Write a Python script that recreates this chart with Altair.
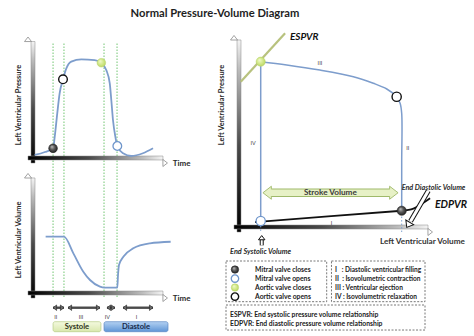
import altair as alt
import pandas as pd

FONT = "Lato"
TXT = "#2a2a2a"
CURVE = "#7d9dcc"

# ---------------- data ----------------
title_text = ["Normal Pressure-Volume Diagram"]

# upper left: LV pressure over one cycle (time s, pressure mmHg)
press_t = [0.048, 0.121, 0.179, 0.191, 0.209, 0.226, 0.250, 0.274, 0.309, 0.381, 0.476,
           0.524, 0.559, 0.584, 0.595, 0.607, 0.624, 0.638, 0.679, 0.738, 0.821, 0.893]
press_p = [8.9, 12.2, 16.3, 29.2, 55.2, 77.4, 93.0, 105.2, 112.6, 115.2, 114.4,
           111.4, 103.3, 88.6, 70.0, 47.8, 29.2, 18.9, 10.8, 7.8, 10.8, 16.3]

# lower left: LV volume over the same cycle (time s, volume mL)
vol_t = [0.126, 0.257, 0.324, 0.395, 0.443, 0.514, 0.545, 0.638, 0.643, 0.650, 0.681, 0.752, 0.871, 1.019]
vol_v = [120.0, 120.0, 97.2, 72.0, 60.6, 51.4, 50.0, 50.0, 67.4, 81.2, 92.5, 104.1, 110.9, 113.1]

# valve events
event_names = ["Mitral valve closes", "Aortic valve opens", "Aortic valve closes", "Mitral valve opens"]
event_t = [0.179, 0.250, 0.524, 0.638]
event_p = [16.3, 93.0, 111.4, 18.9]

# phase boundaries (dotted green lines)
boundary_t = [0.179, 0.257, 0.543, 0.636]

# phase arrows below the volume plot
phase_names = ["II", "III", "IV", "I"]
phase_start = [0.179, 0.286, 0.564, 0.679]
phase_end = [0.257, 0.514, 0.621, 0.893]
phase_label_t = [0.198, 0.379, 0.567, 0.776]

cycle_names = ["Systole", "Diastole"]
cycle_start = [0.179, 0.543]
cycle_end = [0.521, 1.0]

# right: pressure-volume loop (volume mL, pressure mmHg)
loop_v = [120.0, 120.0, 120.0, 119.2, 117.5, 112.6, 105.9, 96.0, 79.4, 62.9, 50.0]
loop_p = [13.7, 45.0, 76.5, 83.0, 87.2, 92.2, 95.9, 100.1, 104.4, 107.7, 109.8]
ivr_v = [50.0, 50.0]
ivr_p = [109.8, 7.1]
fill_v = [47.2, 85.0, 120.0]
fill_p = [6.4, 10.2, 13.7]
edpvr_v = [120.0, 125.8, 129.1, 134.1]
edpvr_p = [13.7, 15.1, 17.4, 21.7]
espvr_v = [40.1, 62.1]
espvr_p = [96.9, 128.1]
pv_event_v = [120.0, 117.5, 50.0, 50.0]
pv_event_p = [13.7, 87.2, 109.8, 7.1]
esv = 50.0
edv = 120.0
pv_phase_names = ["I", "II", "III", "IV"]
pv_phase_v = [85.2, 123.0, 79.4, 46.2]
pv_phase_p = [5.6, 54.0, 109.1, 57.6]

legend_roman = ["I\u00a0\u00a0\u00a0: Diastolic ventricular filling",
                "II\u00a0\u00a0: Isovolumetric contraction",
                "III : Ventricular ejection",
                "IV : Isovolumetric relaxation"]
legend_abbr = ["ESPVR: End systolic pressure volume relationship",
               "EDPVR: End diastolic pressure volume relationship"]

# ---------------- scales (domain, pixel range) ----------------
T_X = ([0.0, 1.0], [28, 168])
A_Y = ([0, 140], [163, 37])
B_Y = ([35.9, 207.4], [298, 173])
COL_Y = ([0, 1], [297, 42])
STRIP_Y = ([0, 1], [303, 333])
C_X = ([36.74, 135.54], [234, 433])
C_Y = ([0, 127], [232, 35])
LG_X = ([0, 100], [226, 425])
LG_Y = ([0, 8], [261, 333])
PG_X = ([0, 1], [0, 474])
PG_Y = ([0, 1], [0, 336])


def S(s):
    return alt.Scale(domain=s[0], range=s[1], zero=False, nice=False)


def XY(xf, yf, xs, ys):
    return dict(x=alt.X(xf, type="quantitative", scale=S(xs), axis=None),
                y=alt.Y(yf, type="quantitative", scale=S(ys), axis=None))


def lin(stops, x1, y1, x2, y2):
    return alt.LinearGradient(gradient="linear",
                              stops=[alt.GradientStop(offset=o, color=c) for o, c in stops],
                              x1=x1, y1=y1, x2=x2, y2=y2)


def rad(stops):
    return alt.RadialGradient(gradient="radial",
                              stops=[alt.GradientStop(offset=o, color=c) for o, c in stops],
                              x1=0.35, y1=0.3, r1=0, x2=0.5, y2=0.5, r2=0.6)


HEAD_R = "M0,0L-1.3,-1L-1.3,1Z"
HEAD_L = "M0,0L1.3,-1L1.3,1Z"
HEAD_U = "M0,0L-1,1.3L1,1.3Z"

MARK_STYLE = {
    "Mitral valve closes": dict(fill=rad([(0, "#c4c4c4"), (0.45, "#5a5a5a"), (1, "#141414")]),
                                stroke="#222222", strokeWidth=0.6),
    "Mitral valve opens": dict(fill="white", stroke="#6f96cb", strokeWidth=1.3),
    "Aortic valve closes": dict(fill=rad([(0, "#f3fad0"), (0.5, "#d4ea8e"), (1, "#b3d058")]),
                                stroke="#b8d36a", strokeWidth=0.5),
    "Aortic valve opens": dict(fill="white", stroke="#111111", strokeWidth=1.4),
}

layers = []


def add(ch):
    layers.append(ch)


def text(labels, xv, yv, xs, ys, size, weight="normal", style="normal", color=TXT,
         align="center", baseline="middle", angle=0):
    d = pd.DataFrame({"x": xv, "y": yv, "label": labels})
    add(alt.Chart(d).mark_text(font=FONT, fontSize=size, fontWeight=weight, fontStyle=style,
                               color=color, align=align, baseline=baseline, angle=angle)
        .encode(**XY("x", "y", xs, ys), text=alt.Text("label:N")))


def head(xv, yv, xs, ys, shape, size, fill, stroke, sw=0.8, angle=0, xo=0, yo=0):
    d = pd.DataFrame({"x": xv, "y": yv})
    add(alt.Chart(d).mark_point(shape=shape, size=size, filled=True, fill=fill, stroke=stroke,
                                strokeWidth=sw, opacity=1, fillOpacity=1, strokeOpacity=1,
                                angle=angle, xOffset=xo, yOffset=yo)
        .encode(**XY("x", "y", xs, ys)))


GRAD_H = lin([(0, "#000000"), (0.45, "#4a4a4a"), (0.85, "#bdbdbd"), (1, "#f4f4f4")], 0, 0, 1, 0)
GRAD_V = lin([(0, "#000000"), (0.45, "#4a4a4a"), (0.85, "#bdbdbd"), (1, "#f4f4f4")], 0, 1, 0, 0)


def axes(xs, ys, x0, x1, y0, y1):
    dv = pd.DataFrame({"x": [x0], "y0": [y0], "y1": [y1]})
    add(alt.Chart(dv).mark_bar(size=4, orient="vertical", fill=GRAD_V, stroke="#8a8a8a", strokeWidth=0.5)
        .encode(x=alt.X("x", type="quantitative", scale=S(xs), axis=None),
                y=alt.Y("y0", type="quantitative", scale=S(ys), axis=None), y2="y1"))
    dh = pd.DataFrame({"x0": [x0], "x1": [x1], "y": [y0]})
    add(alt.Chart(dh).mark_bar(size=4, orient="horizontal", fill=GRAD_H, stroke="#8a8a8a", strokeWidth=0.5)
        .encode(x=alt.X("x0", type="quantitative", scale=S(xs), axis=None), x2="x1",
                y=alt.Y("y", type="quantitative", scale=S(ys), axis=None)))
    head([x0], [y1], xs, ys, HEAD_U, 49, "white", "#8a8a8a", 0.8, yo=-4.5)
    head([x1], [y0], xs, ys, HEAD_R, 49, "white", "#8a8a8a", 0.8, xo=4.5)


def markers(names, xv, yv, xs, ys, size):
    for n, a, b in zip(names, xv, yv):
        d = pd.DataFrame({"x": [a], "y": [b], "event": [n]})
        st = MARK_STYLE[n]
        add(alt.Chart(d).mark_point(shape="circle", size=size, filled=True, opacity=1,
                                    fillOpacity=1, strokeOpacity=1, **st)
            .encode(**XY("x", "y", xs, ys)))


# ---------------- left column ----------------
d = pd.DataFrame({"t": boundary_t, "y0": [0] * 4, "y1": [1] * 4})
add(alt.Chart(d).mark_rule(color="#72c672", strokeWidth=1, strokeDash=[1.5, 1.5])
    .encode(x=alt.X("t", type="quantitative", scale=S(T_X), axis=None),
            y=alt.Y("y0", type="quantitative", scale=S(COL_Y), axis=None), y2="y1"))

axes(T_X, A_Y, 0.0, 0.964, 0, 135)
axes(T_X, B_Y, 0.0, 0.964, 35.9, 200.6)

d = pd.DataFrame({"t": press_t, "p": press_p})
add(alt.Chart(d).mark_line(color=CURVE, strokeWidth=1.8, interpolate="monotone")
    .encode(**XY("t", "p", T_X, A_Y)))
markers(event_names, event_t, event_p, T_X, A_Y, 75)

d = pd.DataFrame({"t": vol_t, "v": vol_v})
add(alt.Chart(d).mark_line(color=CURVE, strokeWidth=1.8, interpolate="monotone")
    .encode(**XY("t", "v", T_X, B_Y)))

text(["Time"], [1.034], [-1.1], T_X, A_Y, 8, weight="bold", align="left")
text(["Time"], [1.034], [34.5], T_X, B_Y, 8, weight="bold", align="left")
text(["Left Ventricular Pressure"], [-0.064], [64.4], T_X, A_Y, 7.4, weight="bold", angle=270)
text(["Left Ventricular Volume"], [-0.064], [115.5], T_X, B_Y, 7.4, weight="bold", angle=270)

# phase arrows
d = pd.DataFrame({"a": phase_start, "b": phase_end, "y": [0.157] * 4})
add(alt.Chart(d).mark_rule(color="#4a4a4a", strokeWidth=2.4)
    .encode(x=alt.X("a", type="quantitative", scale=S(T_X), axis=None), x2="b",
            y=alt.Y("y", type="quantitative", scale=S(STRIP_Y), axis=None)))
head(phase_start, [0.157] * 4, T_X, STRIP_Y, HEAD_L, 30, "#6a6a6a", "#222222", 0.6)
head(phase_end, [0.157] * 4, T_X, STRIP_Y, HEAD_R, 30, "#6a6a6a", "#222222", 0.6)
text(phase_names, phase_label_t, [0.457] * 4, T_X, STRIP_Y, 5.5, color="#444444")

# systole / diastole boxes
fills = [lin([(0, "#f4f9df"), (1, "#d9e8ad")], 0, 0, 0, 1),
         lin([(0, "#b3d1f2"), (1, "#5f95d6")], 0, 0, 0, 1)]
strokes = ["#b6cb84", "#5b88c3"]
tcolors = ["#2e3320", "#17294a"]
for i in range(2):
    d = pd.DataFrame({"a": [cycle_start[i]], "b": [cycle_end[i]], "y0": [0.623], "y1": [0.957]})
    add(alt.Chart(d).mark_rect(fill=fills[i], stroke=strokes[i], strokeWidth=0.7, cornerRadius=2)
        .encode(x=alt.X("a", type="quantitative", scale=S(T_X), axis=None), x2="b",
                y=alt.Y("y0", type="quantitative", scale=S(STRIP_Y), axis=None), y2="y1"))
    text([cycle_names[i]], [(cycle_start[i] + cycle_end[i]) / 2], [0.79], T_X, STRIP_Y, 7.6,
         weight="bold", color=tcolors[i])

# ---------------- right panel: PV loop ----------------
axes(C_X, C_Y, 36.74, 133.06, 0, 123.8)

d = pd.DataFrame({"v": [esv, edv], "p0": [6.2, 12.2], "p1": [0, 0]})
add(alt.Chart(d).mark_rule(color="#7da0d0", strokeWidth=1, strokeDash=[1.5, 2])
    .encode(x=alt.X("v", type="quantitative", scale=S(C_X), axis=None),
            y=alt.Y("p0", type="quantitative", scale=S(C_Y), axis=None), y2="p1"))

d = pd.DataFrame({"v": espvr_v, "p": espvr_p})
add(alt.Chart(d).mark_line(color="#b8c27e", strokeWidth=2.2).encode(**XY("v", "p", C_X, C_Y)))

d = pd.DataFrame({"v": ivr_v, "p": ivr_p, "i": [0, 1]})
add(alt.Chart(d).mark_line(color=CURVE, strokeWidth=1.5)
    .encode(**XY("v", "p", C_X, C_Y), order=alt.Order("i:Q")))
d = pd.DataFrame({"v": loop_v, "p": loop_p, "i": list(range(len(loop_v)))})
add(alt.Chart(d).mark_line(color=CURVE, strokeWidth=1.5, interpolate="catmull-rom")
    .encode(**XY("v", "p", C_X, C_Y), order=alt.Order("i:Q")))
d = pd.DataFrame({"v": fill_v, "p": fill_p})
add(alt.Chart(d).mark_line(color="#111111", strokeWidth=1.8).encode(**XY("v", "p", C_X, C_Y)))
d = pd.DataFrame({"v": edpvr_v, "p": edpvr_p})
add(alt.Chart(d).mark_line(color="#111111", strokeWidth=1.8, interpolate="monotone")
    .encode(**XY("v", "p", C_X, C_Y)))

# stroke volume double arrow
SV_P = 25.3
d = pd.DataFrame({"a": [55.3], "b": [114.0], "y": [SV_P]})
add(alt.Chart(d).mark_rule(color="#9fb96a", strokeWidth=8.5)
    .encode(x=alt.X("a", type="quantitative", scale=S(C_X), axis=None), x2="b",
            y=alt.Y("y", type="quantitative", scale=S(C_Y), axis=None)))
head([51.1], [SV_P], C_X, C_Y, HEAD_L, 169, "#e7f1c6", "#9fb96a", 0.9)
head([118.2], [SV_P], C_X, C_Y, HEAD_R, 169, "#e7f1c6", "#9fb96a", 0.9)
d = pd.DataFrame({"a": [54.6], "b": [114.7], "y": [SV_P]})
add(alt.Chart(d).mark_rule(color="#e7f1c6", strokeWidth=6.5)
    .encode(x=alt.X("a", type="quantitative", scale=S(C_X), axis=None), x2="b",
            y=alt.Y("y", type="quantitative", scale=S(C_Y), axis=None)))
text(["Stroke Volume"], [84.6], [SV_P], C_X, C_Y, 8.2, weight="bold", color="#3a3a3a")


def hollow(v0, p0, v1, p1, w):
    dd = pd.DataFrame({"v0": [v0], "p0": [p0], "v1": [v1], "p1": [p1]})
    for col, sw in (("#111111", w), ("white", w - 2)):
        add(alt.Chart(dd).mark_rule(color=col, strokeWidth=sw)
            .encode(x=alt.X("v0", type="quantitative", scale=S(C_X), axis=None), x2="v1",
                    y=alt.Y("p0", type="quantitative", scale=S(C_Y), axis=None), y2="p1"))


hollow(133.2, 26.6, 124.4, 6.9, 5)
head([122.5], [3.0], C_X, C_Y, HEAD_R, 81, "white", "#111111", 1, angle=120.5)
hollow(50.5, -8.6, 50.5, -5.0, 4)
head([50.5], [-2.3], C_X, C_Y, HEAD_U, 42, "white", "#111111", 1)

markers(event_names, pv_event_v, pv_event_p, C_X, C_Y, 85)

text(pv_phase_names, pv_phase_v, pv_phase_p, C_X, C_Y, 5.5, color="#444444")
text(["ESPVR"], [64.5], [125.9], C_X, C_Y, 10, weight="bold", style="italic", color="#111111", align="left")
text(["EDPVR"], [136.5], [17.4], C_X, C_Y, 10.5, weight="bold", style="italic", color="#111111", align="left")
text(["End Diastolic Volume"], [120.0], [28.2], C_X, C_Y, 7.2, weight="bold", style="italic", align="left")
text(["End Systolic Volume"], [34.8], [-12.7], C_X, C_Y, 7.3, weight="bold", style="italic", align="left")
text(["Left Ventricular Volume"], [130.3], [-6.25], C_X, C_Y, 8.2, weight="bold", color="#333333")
text(["Left Ventricular Pressure"], [30.8], [81.9], C_X, C_Y, 7.4, weight="bold", angle=270)

# ---------------- legend boxes ----------------
d = pd.DataFrame({"x0": [0, 53, 0], "x1": [50.6, 100, 100], "y0": [0, 0, 4.89], "y1": [4.52, 4.52, 7.67]})
add(alt.Chart(d).mark_rect(fill="transparent", stroke="#555555", strokeWidth=0.8, strokeDash=[2, 1.5])
    .encode(x=alt.X("x0", type="quantitative", scale=S(LG_X), axis=None), x2="x1",
            y=alt.Y("y0", type="quantitative", scale=S(LG_Y), axis=None), y2="y1"))
rows = [0.95, 1.95, 2.95, 3.95]
legend_order = ["Mitral valve closes", "Mitral valve opens", "Aortic valve closes", "Aortic valve opens"]
markers(legend_order, [4.5] * 4, rows, LG_X, LG_Y, 55)
text(legend_order, [14.6] * 4, rows, LG_X, LG_Y, 6.8, weight="bold", color="#222222", align="left")
text(legend_roman, [54.8] * 4, rows, LG_X, LG_Y, 6.6, weight="bold", color="#222222", align="left")
text(legend_abbr, [2.0, 2.0], [6.0, 7.0], LG_X, LG_Y, 6.8, weight="bold", color="#222222", align="left")

# ---------------- title ----------------
text(title_text, [0.4536], [0.0417], PG_X, PG_Y, 11.2, weight="bold", color="#1e1e1e")

chart = (alt.layer(*layers)
         .resolve_scale(x="independent", y="independent")
         .properties(width=474, height=336, autosize=alt.AutoSizeParams(type="none"),
                     padding=0, background="white")
         .configure_view(stroke=None))

chart.save("out.html", embed_options={"renderer": "svg", "actions": False})
